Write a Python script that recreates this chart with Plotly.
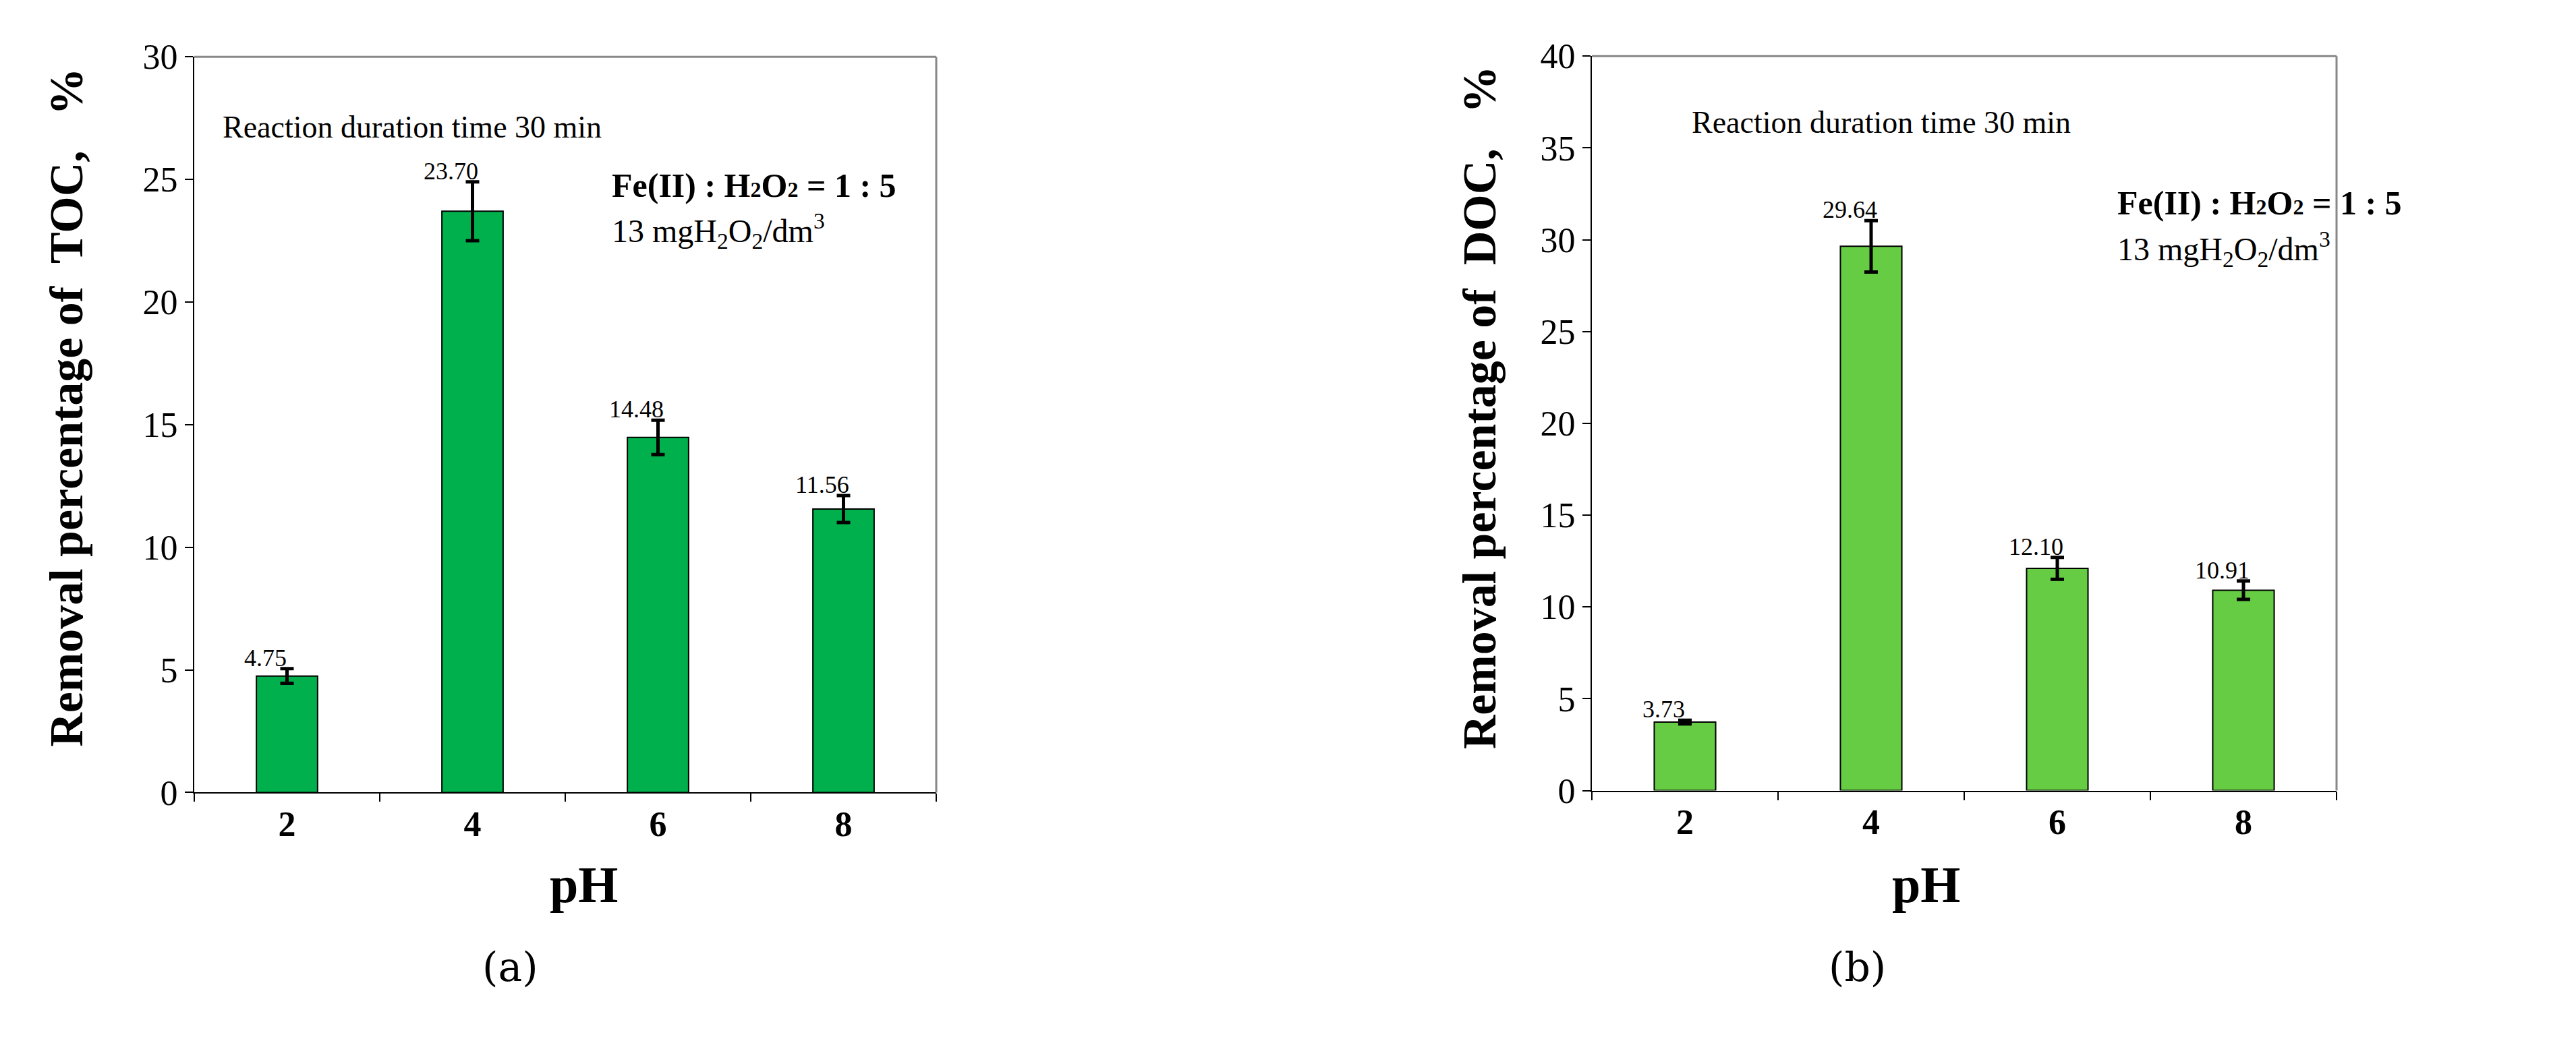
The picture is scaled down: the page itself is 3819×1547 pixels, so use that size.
import plotly.graph_objects as go

ph = ["2", "4", "6", "8"]
toc = [4.75, 23.70, 14.48, 11.56]
toc_err = [0.30, 1.20, 0.70, 0.55]
doc = [3.73, 29.64, 12.10, 10.91]
doc_err = [0.10, 1.40, 0.60, 0.50]

W, H = 3819, 1547
F = "Liberation Serif"
fig = go.Figure()
fig.add_bar(x=ph, y=toc, width=0.33, marker=dict(color="#00B04C", line=dict(color="black", width=2)),
            error_y=dict(type="data", array=toc_err, color="black", thickness=5, width=10),
            xaxis="x", yaxis="y", showlegend=False)
fig.add_bar(x=ph, y=doc, width=0.33, marker=dict(color="#66CC44", line=dict(color="black", width=2)),
            error_y=dict(type="data", array=doc_err, color="black", thickness=5, width=10),
            xaxis="x2", yaxis="y2", showlegend=False)

def ax(dom):
    return dict(domain=dom, showline=True, linecolor="black", linewidth=2, ticks="outside",
                ticklen=12, tickwidth=2, tickcolor="black", mirror=False)

tf = dict(family=F, size=52, color="black")
xa = ax([280/W, 1380/W]); xa.update(type="category", range=[-0.5, 3.5], tickson="boundaries", tickfont=tf, anchor="y")
xa2 = ax([2352/W, 3456/W]); xa2.update(type="category", range=[-0.5, 3.5], tickson="boundaries", tickfont=tf, anchor="y2")
ya = ax([1-1183/H, 1-50/H]); ya.update(range=[0, 30], dtick=5, showgrid=False, tickfont=tf, anchor="x")
ya2 = ax([1-1180/H, 1-49/H]); ya2.update(range=[0, 40], dtick=5, showgrid=False, tickfont=tf, anchor="x2")
fig.update_layout(width=W, height=H, margin=dict(l=0, r=0, t=0, b=0), plot_bgcolor="white", paper_bgcolor="white",
                  xaxis=xa, yaxis=ya, xaxis2=xa2, yaxis2=ya2)
fig.update_xaxes(tickprefix="<b>", ticksuffix="</b>")

for x0, x1, y0, y1 in [(280/W, 1380/W, 1-1183/H, 1-50/H), (2352/W, 3456/W, 1-1180/H, 1-49/H)]:
    fig.add_shape(type="line", xref="paper", yref="paper", x0=x0, x1=x1, y0=y1, y1=y1, line=dict(color="#888888", width=3))
    fig.add_shape(type="line", xref="paper", yref="paper", x0=x1, x1=x1, y0=y0, y1=y1, line=dict(color="#888888", width=3))

def ann(**k):
    base = dict(showarrow=False, font=dict(family=F, size=46, color="black"))
    base.update(k)
    fig.add_annotation(**base)

for xr, yr, vals, errs in [("x", "y", toc, toc_err), ("x2", "y2", doc, doc_err)]:
    for i, (v, e) in enumerate(zip(vals, errs)):
        ann(x=i, y=v + e, xref=xr, yref=yr, text=f"{v:.2f}", xshift=-32, yshift=-6, yanchor="bottom", xanchor="center",
            font=dict(family=F, size=36, color="black"))

sub = "<span style='font-size:32px'>2</span>"
for left, ytxt, yfe, ymg, lab, xlab, ttl in [
        (True, 158, 248, 318, "(a)", 805, "Removal percentage of  TOC,   %"),
        (False, 151, 275, 346, "(b)", 2900, "Removal percentage of  DOC,   %")]:
    ann(x=(320 if left else 2498)/W, y=1-ytxt/H, xref="paper", yref="paper", xanchor="left", yanchor="middle",
        text="Reaction duration time 30 min")
    fx = (897 if left else 3129)/W
    ann(x=fx, y=1-yfe/H, xref="paper", yref="paper", xanchor="left", yanchor="middle",
        text=f"<b>Fe(II) : H{sub}O{sub} = 1 : 5</b>", font=dict(family=F, size=50, color="black"))
    ann(x=fx, y=1-ymg/H, xref="paper", yref="paper", xanchor="left", yanchor="middle",
        text="13 mgH<sub>2</sub>O<sub>2</sub>/dm<sup>3</sup>", font=dict(family=F, size=48, color="black"))
    ann(x=xlab/W, y=1-1370/H, xref="paper", yref="paper", text="<b>pH</b>",
        font=dict(family=F, size=76, color="black"))
    ann(x=(705 if left else 2790)/W, y=1-1490/H, xref="paper", yref="paper", text=lab,
        font=dict(family="DejaVu Serif", size=60, color="black"))
    ann(x=(50 if left else 2185)/W, y=1-590/H, xref="paper", yref="paper", textangle=-90, text=f"<b>{ttl}</b>",
        font=dict(family=F, size=70, color="black"))

fig.write_html("out.html")
